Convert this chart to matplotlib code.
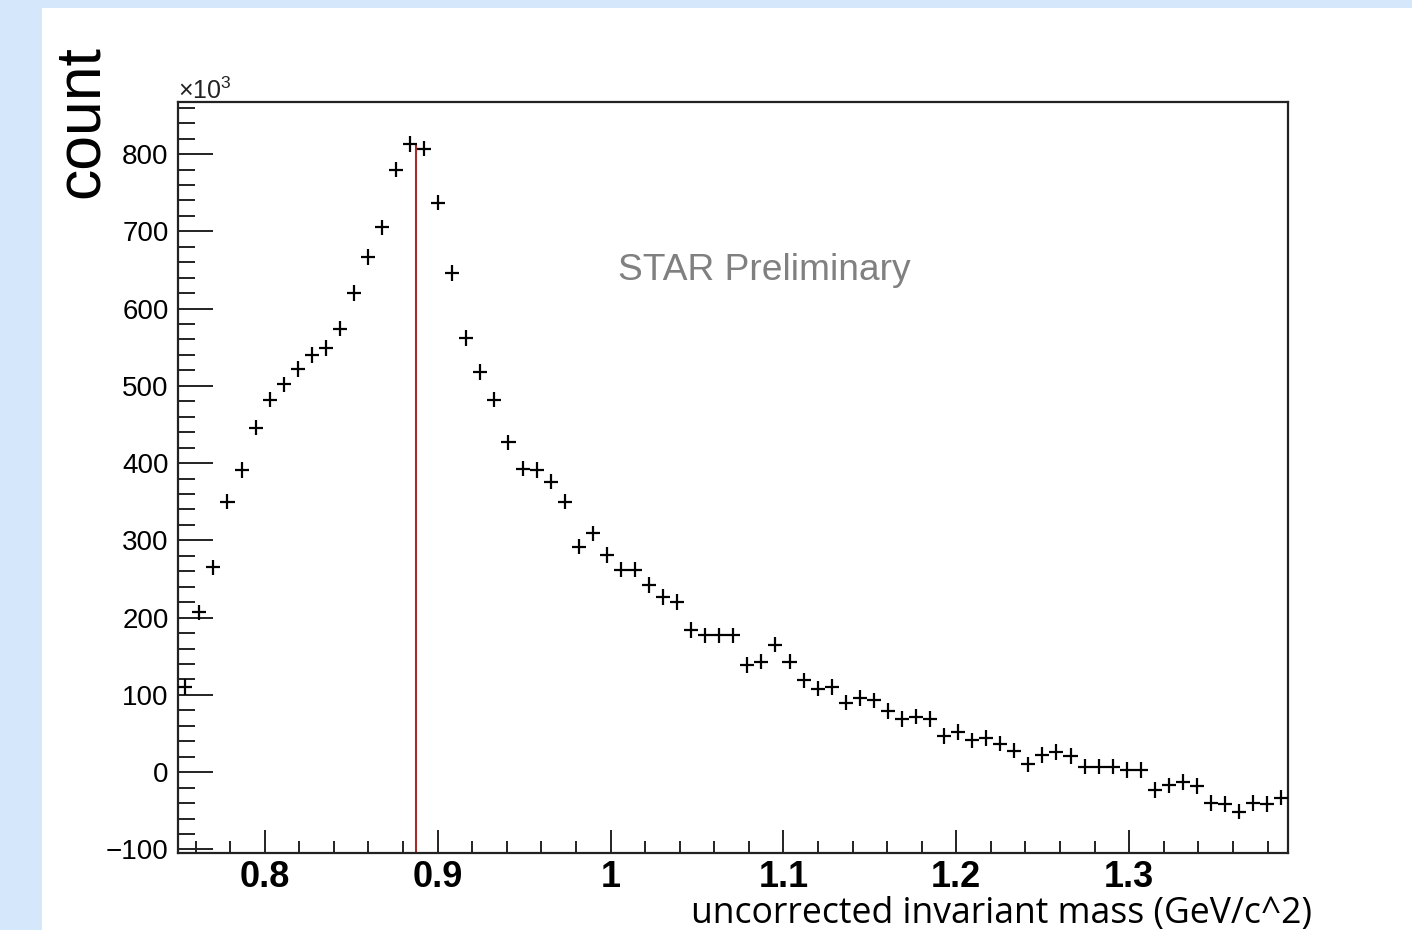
import numpy as np
import matplotlib
matplotlib.use("Agg")
import matplotlib.pyplot as plt
from matplotlib.ticker import MultipleLocator, FixedLocator

# background-subtracted counts per bin, in units of 10^3
counts = [110, 207, 265, 350, 391, 446, 482, 502, 522, 540,
          549, 574, 620, 667, 705, 780, 813, 807, 737, 646,
          562, 518, 482, 427, 393, 391, 376, 350, 292, 309,
          281, 262, 262, 242, 227, 220, 184, 177, 177, 177,
          139, 143, 165, 143, 119, 108, 110, 90, 96, 93,
          79, 69, 72, 69, 47, 52, 41, 44, 37, 28,
          10, 22, 26, 21, 7, 7, 7, 3, 3, -23,
          -17, -13, -18, -40, -41, -51, -40, -41, -33]
count_err = 10

mass_lo = 0.75
mass_hi = 1.392
y_lo = -105
y_hi = 867

peak_line_x = 0.8875
peak_line_top = 810

x_ticks = [0.8, 0.9, 1.0, 1.1, 1.2, 1.3]
x_tick_labels = ["0.8", "0.9", "1", "1.1", "1.2", "1.3"]
y_ticks = [-100, 0, 100, 200, 300, 400, 500, 600, 700, 800]
y_tick_labels = ["\u2212100", "0", "100", "200", "300", "400", "500", "600", "700", "800"]


def main():
    plt.rcParams["mathtext.fontset"] = "custom"
    plt.rcParams["mathtext.rm"] = "Liberation Sans"
    plt.rcParams["mathtext.it"] = "Liberation Sans"

    fig = plt.figure(figsize=(14.12, 9.30), dpi=100)
    fig.patch.set_facecolor("#d5e7fb")
    # white panel
    fig.add_artist(plt.Rectangle((42 / 1412, 0), 1 - 42 / 1412, 1 - 8 / 930,
                                 transform=fig.transFigure, facecolor="white",
                                 edgecolor="none", zorder=0))

    ax = fig.add_axes([178.3 / 1412, 1 - 853.3 / 930,
                       (1288.3 - 178.3) / 1412, (853.3 - 102.3) / 930])

    n = len(counts)
    edges = np.linspace(mass_lo, mass_hi, n + 1)
    centers = 0.5 * (edges[:-1] + edges[1:])
    half_w = 0.5 * (edges[1] - edges[0])

    ax.errorbar(centers, counts, xerr=half_w, yerr=count_err, fmt="none",
                ecolor="black", elinewidth=1.6, capsize=0, zorder=3)

    ax.plot([peak_line_x, peak_line_x], [y_lo, peak_line_top],
            color="#a52a2a", lw=1.5, zorder=2)

    ax.set_xlim(mass_lo, mass_hi)
    ax.set_ylim(y_lo, y_hi)

    ax.xaxis.set_major_locator(FixedLocator(x_ticks))
    ax.set_xticklabels(x_tick_labels, fontfamily="Liberation Sans",
                       fontweight="bold", fontsize=26)
    ax.xaxis.set_minor_locator(MultipleLocator(0.02))
    ax.yaxis.set_major_locator(FixedLocator(y_ticks))
    ax.set_yticklabels(y_tick_labels, fontfamily="Liberation Sans", fontsize=20)
    ax.yaxis.set_minor_locator(MultipleLocator(20))

    ax.tick_params(axis="both", which="both", direction="in",
                   top=False, right=False, width=1.4, color="#222222")
    ax.tick_params(axis="y", which="major", length=25, pad=7)
    ax.tick_params(axis="y", which="minor", length=12.5)
    ax.tick_params(axis="x", which="major", length=16.5, pad=5)
    ax.tick_params(axis="x", which="minor", length=8.5)

    for sp in ax.spines.values():
        sp.set_linewidth(1.6)
        sp.set_color("#222222")

    fig.text(178 / 1412, 1 - 99 / 930, r"$\times10^{3}$", fontsize=18,
             ha="left", va="baseline", color="#222222")

    fig.text(618 / 1412, 1 - 280 / 930, "STAR Preliminary",
             fontfamily="Liberation Sans", fontsize=26.7, color="#808080",
             ha="left", va="baseline")

    fig.text(81 / 1412, 1 - 122 / 930, "count", rotation=90,
             fontfamily="Liberation Sans", fontsize=45,
             ha="center", va="center")

    fig.text(1312 / 1412, 1 - 896 / 930, "uncorrected invariant mass (GeV/c^2)",
             fontfamily="Open Sans", fontsize=25.6, ha="right", va="top")

    fig.savefig("out.png", dpi=100)
    plt.close(fig)


if __name__ == "__main__":
    main()
